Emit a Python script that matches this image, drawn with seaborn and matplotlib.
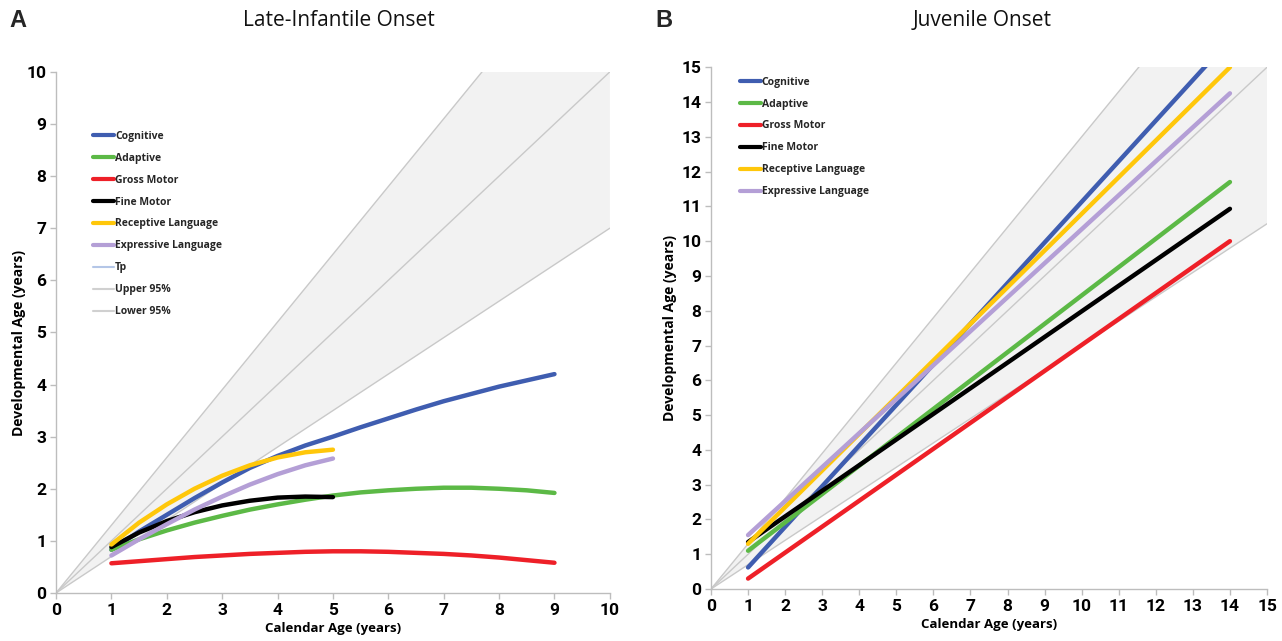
import matplotlib
matplotlib.use("Agg")
import matplotlib.pyplot as plt
from matplotlib.lines import Line2D
import seaborn as sns
import pandas as pd

# Late-infantile onset (panel A), read at half-year steps
a_x_long = [1, 1.5, 2, 2.5, 3, 3.5, 4, 4.5, 5, 5.5, 6, 6.5, 7, 7.5, 8, 8.5, 9]
a_x_short = [1, 1.5, 2, 2.5, 3, 3.5, 4, 4.5, 5]
a_cognitive = [0.83, 1.18, 1.5, 1.82, 2.12, 2.4, 2.63, 2.83, 3.0, 3.18, 3.35, 3.52, 3.68, 3.82, 3.96, 4.08, 4.2]
a_adaptive = [0.83, 1.03, 1.2, 1.35, 1.48, 1.6, 1.7, 1.79, 1.87, 1.93, 1.97, 2.0, 2.02, 2.02, 2.0, 1.97, 1.92]
a_gross = [0.57, 0.61, 0.65, 0.69, 0.72, 0.75, 0.77, 0.79, 0.8, 0.8, 0.79, 0.77, 0.75, 0.72, 0.68, 0.63, 0.58]
a_fine = [0.88, 1.16, 1.38, 1.55, 1.68, 1.77, 1.83, 1.85, 1.84]
a_receptive = [0.93, 1.35, 1.7, 2.0, 2.25, 2.45, 2.6, 2.7, 2.75]
a_expressive = [0.72, 1.03, 1.32, 1.6, 1.85, 2.08, 2.28, 2.45, 2.58]

# Juvenile onset (panel B), straight lines: start and end
b_x = [1, 14]
b_cognitive = [0.62, 15.8]
b_adaptive = [1.1, 11.7]
b_gross = [0.3, 10.0]
b_fine = [1.35, 10.93]
b_receptive = [1.3, 15.0]
b_expressive = [1.55, 14.25]

# typical performance and 95% band
a_band_x = [0, 10]
a_tp = [0, 10]
a_upper = [0, 13]
a_lower = [0, 7]
b_band_x = [0, 15]
b_tp = [0, 15]
b_upper = [0, 19.5]
b_lower = [0, 10.5]

domains = ["Cognitive", "Adaptive", "Gross Motor", "Fine Motor",
           "Receptive Language", "Expressive Language"]
colors = ["#3f5db0", "#5cb946", "#ee2028", "#000000", "#ffc70a", "#b49fd6"]
palette = dict(zip(domains, colors))

def long_df(series):
    rows = []
    for name, x, y in series:
        for xi, yi in zip(x, y):
            rows.append({"domain": name, "x": xi, "y": yi})
    return pd.DataFrame(rows)

df_a = long_df([
    ("Cognitive", a_x_long, a_cognitive), ("Adaptive", a_x_long, a_adaptive),
    ("Gross Motor", a_x_long, a_gross), ("Fine Motor", a_x_short, a_fine),
    ("Receptive Language", a_x_short, a_receptive),
    ("Expressive Language", a_x_short, a_expressive)])
df_b = long_df([
    ("Cognitive", b_x, b_cognitive), ("Adaptive", b_x, b_adaptive),
    ("Gross Motor", b_x, b_gross), ("Fine Motor", b_x, b_fine),
    ("Receptive Language", b_x, b_receptive),
    ("Expressive Language", b_x, b_expressive)])

sns.set_style("white")
plt.rcParams["font.family"] = ["DejaVu Sans"]

fig = plt.figure(figsize=(12.82, 6.41), dpi=100)
ax_a = fig.add_axes([0.0437, 0.0749, 0.432, 0.813])
ax_b = fig.add_axes([0.5546, 0.0811, 0.4337, 0.814])

band_grey = "#c9c9c9"
label_font = ["Open Sans", "DejaVu Sans"]
tick_font = ["Roboto", "DejaVu Sans"]

def draw_panel(ax, df, bx, tp, up, lo, lim, ticks, legend_extra):
    ax.fill_between(bx, lo, up, color="#f2f2f2", lw=0, zorder=0)
    ax.plot(bx, up, color=band_grey, lw=1, zorder=1)
    ax.plot(bx, tp, color=band_grey, lw=1, zorder=1)
    ax.plot(bx, lo, color=band_grey, lw=1, zorder=1)
    sns.lineplot(data=df, x="x", y="y", hue="domain", palette=palette,
                 hue_order=domains, sort=False, lw=3.2, ax=ax, legend=False,
                 zorder=3)
    ax.set_xlim(0, lim)
    ax.set_ylim(0, lim)
    ax.set_xticks(ticks)
    ax.set_yticks(ticks)
    for s in ["top", "right"]:
        ax.spines[s].set_visible(False)
    for s in ["left", "bottom"]:
        ax.spines[s].set_color("#bdbdbd")
        ax.spines[s].set_linewidth(1)
    ax.tick_params(axis="both", which="major", length=4, width=1,
                   color="#bdbdbd", direction="out", left=True, bottom=True,
                   labelsize=12.5, pad=3, labelcolor="black")
    for lab in ax.get_xticklabels() + ax.get_yticklabels():
        lab.set_fontweight("bold")
        lab.set_family(tick_font)
    ax.set_xlabel("Calendar Age (years)", fontsize=9.5, fontweight="bold",
                  family=label_font, labelpad=3, color="black")
    ax.set_ylabel("Developmental Age (years)", fontsize=10, fontweight="bold",
                  family=label_font, color="black")
    handles = [Line2D([0], [0], color=c, lw=3) for c in colors]
    labels = list(domains)
    if legend_extra:
        handles += [Line2D([0], [0], color="#b4c6e7", lw=1.5),
                    Line2D([0], [0], color="#d0d0d0", lw=1.5),
                    Line2D([0], [0], color="#d0d0d0", lw=1.5)]
        labels += ["Tp", "Upper 95%", "Lower 95%"]
    return handles, labels

leg_prop = {"family": label_font, "weight": "bold", "size": 7.5}

h, l = draw_panel(ax_a, df_a, a_band_x, a_tp, a_upper, a_lower, 10,
                  range(0, 11), True)
ax_a.legend(h, l, loc="upper left", bbox_to_anchor=(0.05, 0.905),
            frameon=False, handlelength=2.0, handletextpad=0.1,
            labelspacing=1.05, prop=leg_prop)
ax_a.yaxis.set_label_coords(-0.054, 0.48)

h, l = draw_panel(ax_b, df_b, b_band_x, b_tp, b_upper, b_lower, 15,
                  range(0, 16), False)
ax_b.legend(h, l, loc="upper left", bbox_to_anchor=(0.035, 1.0),
            frameon=False, handlelength=2.0, handletextpad=0.1,
            labelspacing=1.05, prop=leg_prop)
ax_b.yaxis.set_label_coords(-0.061, 0.5)

title_font = ["Open Sans", "DejaVu Sans"]
fig.text(0.2644, 0.968, "Late-Infantile Onset", ha="center", va="center",
         fontsize=15, family=title_font, color="#111111")
fig.text(0.7660, 0.968, "Juvenile Onset", ha="center", va="center",
         fontsize=15, family=title_font, color="#111111")
fig.text(0.007, 0.968, "A", ha="left", va="center", fontsize=17,
         fontweight="bold", family=["Liberation Sans", "DejaVu Sans"])
fig.text(0.511, 0.968, "B", ha="left", va="center", fontsize=17,
         fontweight="bold", family=["Liberation Sans", "DejaVu Sans"])

fig.savefig("out.png", dpi=100, facecolor="white")
